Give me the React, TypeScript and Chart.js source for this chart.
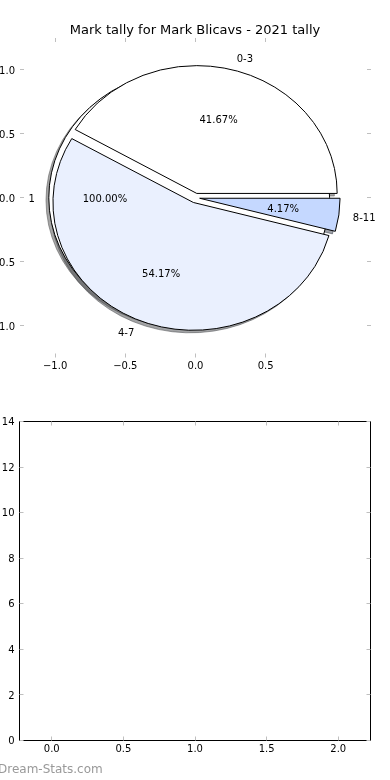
import React, { useEffect, useRef } from 'react';
import { Chart, registerables } from 'chart.js';

Chart.register(...registerables);

// ---------- data ----------
const chartTitle = 'Mark tally for Mark Blicavs - 2021 tally';
const categories = ['0-3', '4-7', '8-11'];
const tallies = [10, 13, 1];
const sliceColors = ['#ffffff', '#eaf0fe', '#c5d8ff'];
const sliceExplode = [0.035, 0.04, 0.03];
const totalLabels = ['1'];
const totalValues = [1];
const totalColors = ['#ffffff'];
const totalExplode = [0.045];
const pieXTicks = [-1, -0.5, 0, 0.5];
const pieYTicks = [-1, -0.5, 0, 0.5, 1];
const barXTicks = [0, 0.5, 1, 1.5, 2];
const barYTicks = [0, 2, 4, 6, 8, 10, 12, 14];
const watermark = 'Dream-Stats.com';

const FONT = 'DejaVu Sans';
const TICK_GRAY = '#bfbfbf';
const SHADOW = -0.02;
const D2R = Math.PI / 180;
const TEXT_DY = 1.5;

type Wedge = {
  t1: number; t2: number; cx: number; cy: number; mid: number;
  frac: number; color: string; label: string; full: boolean;
};

function buildWedges(values: number[], explode: number[], colors: string[], labels: string[]): Wedge[] {
  const total = values.reduce((a, b) => a + b, 0);
  let theta = 0;
  return values.map((v, i) => {
    const frac = v / total;
    const t1 = theta;
    const t2 = theta + 360 * frac;
    theta = t2;
    const mid = ((t1 + t2) / 2) * D2R;
    return {
      t1, t2, mid, frac,
      cx: explode[i] * Math.cos(mid),
      cy: explode[i] * Math.sin(mid),
      color: colors[i], label: labels[i], full: frac > 0.999999,
    };
  });
}

function hexRgb(h: string): number[] {
  const n = parseInt(h.slice(1), 16);
  return [(n >> 16) & 255, (n >> 8) & 255, n & 255];
}

function fmt1(v: number) {
  return (v < 0 ? '\u2212' : '') + Math.abs(v).toFixed(1);
}

function drawInnerTicks(chart: any, xVals: number[], yVals: number[]) {
  const { ctx, chartArea: a } = chart;
  const xs = chart.scales.x, ys = chart.scales.y;
  ctx.save();
  ctx.strokeStyle = TICK_GRAY;
  ctx.lineWidth = 1;
  ctx.beginPath();
  xVals.forEach((v) => {
    const p = Math.floor(xs.getPixelForValue(v)) + 0.5;
    ctx.moveTo(p, a.top); ctx.lineTo(p, a.top + 4);
    ctx.moveTo(p, a.bottom); ctx.lineTo(p, a.bottom - 4);
  });
  yVals.forEach((v) => {
    const p = Math.floor(ys.getPixelForValue(v)) + 0.5;
    ctx.moveTo(a.left, p); ctx.lineTo(a.left + 4, p);
    ctx.moveTo(a.right, p); ctx.lineTo(a.right - 4, p);
  });
  ctx.stroke();
  ctx.restore();
}

const piePlugin = {
  id: 'matplotPies',
  afterDraw(chart: any) {
    const ctx = chart.ctx;
    const xs = chart.scales.x, ys = chart.scales.y;
    drawInnerTicks(chart, pieXTicks, pieYTicks);
    const pies = [
      buildWedges(totalValues, totalExplode, totalColors, totalLabels),
      buildWedges(tallies, sliceExplode, sliceColors, categories),
    ];
    const rx = xs.getPixelForValue(1) - xs.getPixelForValue(0);
    const ry = ys.getPixelForValue(0) - ys.getPixelForValue(1);
    const path = (w: Wedge, o: number) => {
      const px = xs.getPixelForValue(w.cx + o);
      const py = ys.getPixelForValue(w.cy + o);
      ctx.beginPath();
      if (w.full) {
        ctx.ellipse(px, py, rx, ry, 0, 0, Math.PI * 2);
      } else {
        ctx.moveTo(px, py);
        ctx.ellipse(px, py, rx, ry, 0, -w.t1 * D2R, -w.t2 * D2R, true);
        ctx.closePath();
      }
    };
    ctx.save();
    ctx.lineWidth = 1;
    ctx.lineJoin = 'miter';
    pies.forEach((p) => p.forEach((w) => {
      const [r, g, b] = hexRgb(w.color);
      const sc = `rgba(${r * 0.3},${g * 0.3},${b * 0.3},0.5)`;
      path(w, SHADOW);
      ctx.fillStyle = sc; ctx.fill();
      ctx.strokeStyle = sc; ctx.stroke();
    }));
    pies.forEach((p) => p.forEach((w) => {
      path(w, 0);
      ctx.fillStyle = w.color; ctx.fill();
      ctx.strokeStyle = '#000'; ctx.stroke();
    }));
    ctx.font = `10px "${FONT}"`;
    ctx.fillStyle = '#000';
    ctx.textBaseline = 'middle';
    pies.forEach((p) => p.forEach((w) => {
      const lx = w.cx + 1.1 * Math.cos(w.mid);
      const ly = w.cy + 1.1 * Math.sin(w.mid);
      ctx.textAlign = lx > 0 ? 'left' : 'right';
      ctx.fillText(w.label, xs.getPixelForValue(lx), ys.getPixelForValue(ly) + TEXT_DY);
      const tx = w.cx + 0.6 * Math.cos(w.mid);
      const ty = w.cy + 0.6 * Math.sin(w.mid);
      ctx.textAlign = 'center';
      ctx.fillText((w.frac * 100).toFixed(2) + '%', xs.getPixelForValue(tx), ys.getPixelForValue(ty) + TEXT_DY);
    }));
    ctx.restore();
  },
};

const framePlugin = {
  id: 'frameTicks',
  afterDraw(chart: any) {
    const { ctx, chartArea: a } = chart;
    ctx.save();
    ctx.strokeStyle = '#000';
    ctx.lineWidth = 1;
    ctx.strokeRect(a.left, a.top, a.right - a.left, a.bottom - a.top);
    ctx.restore();
    drawInnerTicks(chart, barXTicks, barYTicks);
    ctx.save();
    ctx.font = `12px "${FONT}"`;
    ctx.fillStyle = '#999999';
    ctx.textAlign = 'left';
    ctx.textBaseline = 'middle';
    ctx.fillText(watermark, -2, chart.height - 10);
    ctx.restore();
  },
};

const tickFont = { family: FONT, size: 10 };

export default function App() {
  const topRef = useRef<HTMLCanvasElement>(null);
  const botRef = useRef<HTMLCanvasElement>(null);

  useEffect(() => {
    const top = new Chart(topRef.current as HTMLCanvasElement, {
      type: 'scatter',
      data: { datasets: [] },
      plugins: [piePlugin],
      options: {
        responsive: false,
        animation: false,
        devicePixelRatio: 1,
        layout: { padding: 0 },
        plugins: {
          legend: { display: false },
          tooltip: { enabled: false },
          title: {
            display: true,
            text: chartTitle,
            color: '#000',
            font: { family: FONT, size: 13, weight: 'normal' },
            padding: { top: 22.6, bottom: -0.2 },
          },
        },
        scales: {
          x: {
            type: 'linear', position: 'bottom', min: -1.25, max: 1.25,
            grid: { display: false, drawTicks: false },
            border: { display: false },
            afterBuildTicks: (s: any) => { s.ticks = pieXTicks.map((v) => ({ value: v })); },
            ticks: { color: '#000', font: tickFont, padding: 2.5, maxRotation: 0, autoSkip: false, callback: (v: any) => fmt1(Number(v)) },
            afterFit: (s: any) => { s.height = 32.5; },
          },
          y: {
            type: 'linear', position: 'left', min: -1.25, max: 1.25,
            grid: { display: false, drawTicks: false },
            border: { display: false },
            afterBuildTicks: (s: any) => { s.ticks = pieYTicks.map((v) => ({ value: v })); },
            ticks: { color: '#000', font: tickFont, padding: 5, labelOffset: 1.5, autoSkip: false, callback: (v: any) => fmt1(Number(v)) },
            afterFit: (s: any) => { s.width = 20; },
          },
          y2: {
            type: 'linear', position: 'right', min: -1.25, max: 1.25,
            grid: { display: false, drawTicks: false },
            border: { display: false },
            ticks: { display: false },
            afterFit: (s: any) => { s.width = 19; },
          },
        },
      } as any,
    });

    const bottom = new Chart(botRef.current as HTMLCanvasElement, {
      type: 'scatter',
      data: { datasets: [] },
      plugins: [framePlugin],
      options: {
        responsive: false,
        animation: false,
        devicePixelRatio: 1,
        layout: { padding: { top: 31.5, right: 19.5, left: 0, bottom: 0 } },
        plugins: { legend: { display: false }, tooltip: { enabled: false }, title: { display: false } },
        scales: {
          x: {
            type: 'linear', position: 'bottom', min: -0.225, max: 2.225,
            grid: { display: false, drawTicks: false },
            border: { display: false },
            afterBuildTicks: (s: any) => { s.ticks = barXTicks.map((v) => ({ value: v })); },
            ticks: { color: '#000', font: tickFont, padding: 2.5, maxRotation: 0, autoSkip: false, callback: (v: any) => Number(v).toFixed(1) },
            afterFit: (s: any) => { s.height = 39.5; },
          },
          y: {
            type: 'linear', position: 'left', min: 0, max: 14,
            grid: { display: false, drawTicks: false },
            border: { display: false },
            afterBuildTicks: (s: any) => { s.ticks = barYTicks.map((v) => ({ value: v })); },
            ticks: { color: '#000', font: tickFont, padding: 5, labelOffset: 1, autoSkip: false, callback: (v: any) => String(Number(v)) },
            afterFit: (s: any) => { s.width = 19.5; },
          },
        },
      } as any,
    });

    return () => { top.destroy(); bottom.destroy(); };
  }, []);

  return (
    <div style={{ position: 'absolute', left: 0, top: 0, width: 390, height: 780, background: '#ffffff', overflow: 'hidden' }}>
      <canvas ref={topRef} width={390} height={390} style={{ position: 'absolute', left: 0, top: 0, width: 390, height: 390 }} />
      <canvas ref={botRef} width={390} height={390} style={{ position: 'absolute', left: 0, top: 390, width: 390, height: 390 }} />
    </div>
  );
}
